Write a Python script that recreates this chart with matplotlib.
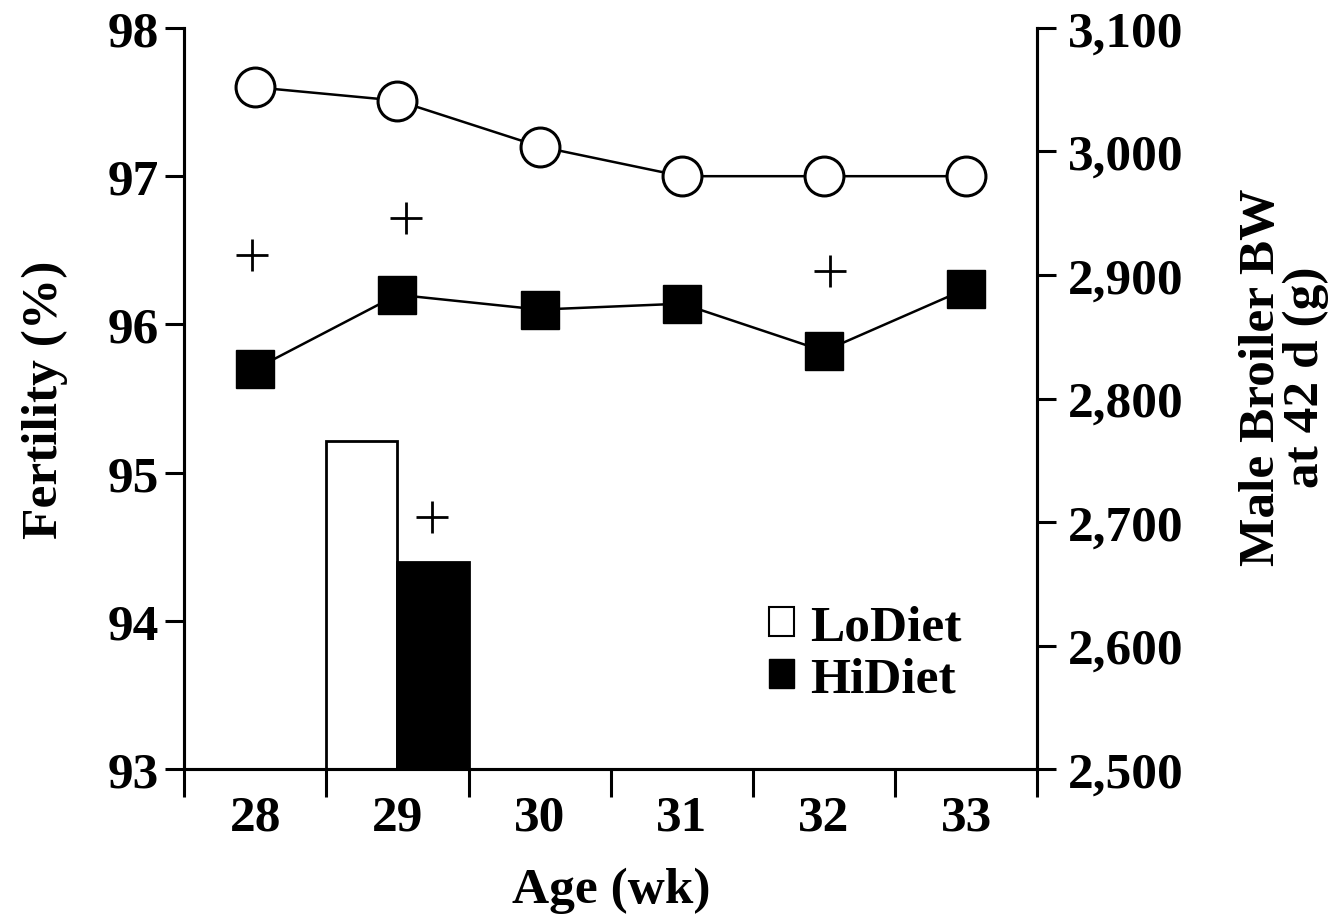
import numpy as np
import matplotlib.pyplot as plt
from matplotlib.patches import Patch
from matplotlib.ticker import FuncFormatter
from matplotlib import rcParams

rcParams['font.family'] = 'Liberation Serif'
rcParams['font.weight'] = 'bold'
rcParams['axes.labelweight'] = 'bold'
rcParams['font.size'] = 37

weeks = [28, 29, 30, 31, 32, 33]
fert_lo = [97.6, 97.51, 97.2, 97.0, 97.0, 97.0]     # LoDiet fertility (%)
fert_hi = [95.7, 96.2, 96.1, 96.14, 95.82, 96.24]   # HiDiet fertility (%)
plus_wk = [27.98, 29.06, 32.04, 29.24]              # "+" marks
plus_y = [96.47, 96.72, 96.36, 94.7]
bw_groups = ['LoDiet', 'HiDiet']
bw_values = [2766, 2668]                            # male broiler BW at 42 d (g), week 29

fig = plt.figure(figsize=(13.35, 9.2), dpi=100)
ax = fig.add_axes([0.138, 0.163, 0.639, 0.8055])
ax2 = ax.twinx()

# столбцы массы тела (правая ось)
ax2.bar([29 - 0.25, 29 + 0.25], bw_values, width=0.5, bottom=0,
        color=['white', 'black'], edgecolor='black', lw=2, zorder=2)

# линии рождаемости
ax.plot(weeks, fert_lo, color='black', lw=1.8, marker='o', ms=28,
        mfc='white', mec='black', mew=2.2, zorder=5)
ax.plot(weeks, fert_hi, color='black', lw=1.8, marker='s', ms=27,
        mfc='black', mec='black', zorder=5)
ax.scatter(plus_wk, plus_y, marker='+', s=520, color='black', lw=2.0, zorder=5)
ax.set_zorder(ax2.get_zorder() + 1)
ax.patch.set_visible(False)

ax.set_xlim(27.5, 33.5)
ax.set_ylim(93, 98)
ax2.set_ylim(2500, 3100)

ax.set_xticks(np.arange(27.5, 34, 1))
ax.set_xticklabels([])
ax.set_xticks(weeks, minor=True)
ax.set_xticklabels([str(w) for w in weeks], minor=True)
ax.tick_params(axis='x', which='major', length=20, width=2.2, direction='out')
ax.tick_params(axis='x', which='minor', length=0, pad=18)
ax.set_yticks([93, 94, 95, 96, 97, 98])
ax.tick_params(axis='y', length=14, width=2.2, direction='out', pad=4)

ax2.set_yticks(np.arange(2500, 3101, 100))
ax2.yaxis.set_major_formatter(FuncFormatter(lambda v, p: f'{int(v):,}'))
ax2.tick_params(axis='y', length=14, width=2.2, direction='out', pad=8)

for a in (ax, ax2):
    a.spines['top'].set_visible(False)
    for s in ('left', 'right', 'bottom'):
        a.spines[s].set_linewidth(2.2)

ax.set_ylabel('Fertility (%)')
ax.yaxis.set_label_coords(-0.136, 0.5)
ax2.set_ylabel('Male Broiler BW\nat 42 d (g)', linespacing=0.95)
ax2.yaxis.set_label_coords(1.236, 0.53)
ax.set_xlabel('Age (wk)')
ax.xaxis.set_label_coords(0.5, -0.132)

handles = [Patch(facecolor='white', edgecolor='black', lw=1.5),
           Patch(facecolor='black', edgecolor='black')]
ax.legend(handles, bw_groups, loc='upper left', bbox_to_anchor=(0.685, 0.222),
          frameon=False, handlelength=0.5, handleheight=0.5, handletextpad=0.3,
          labelspacing=0.12, borderpad=0, borderaxespad=0)

fig.savefig('out.png', dpi=100)
